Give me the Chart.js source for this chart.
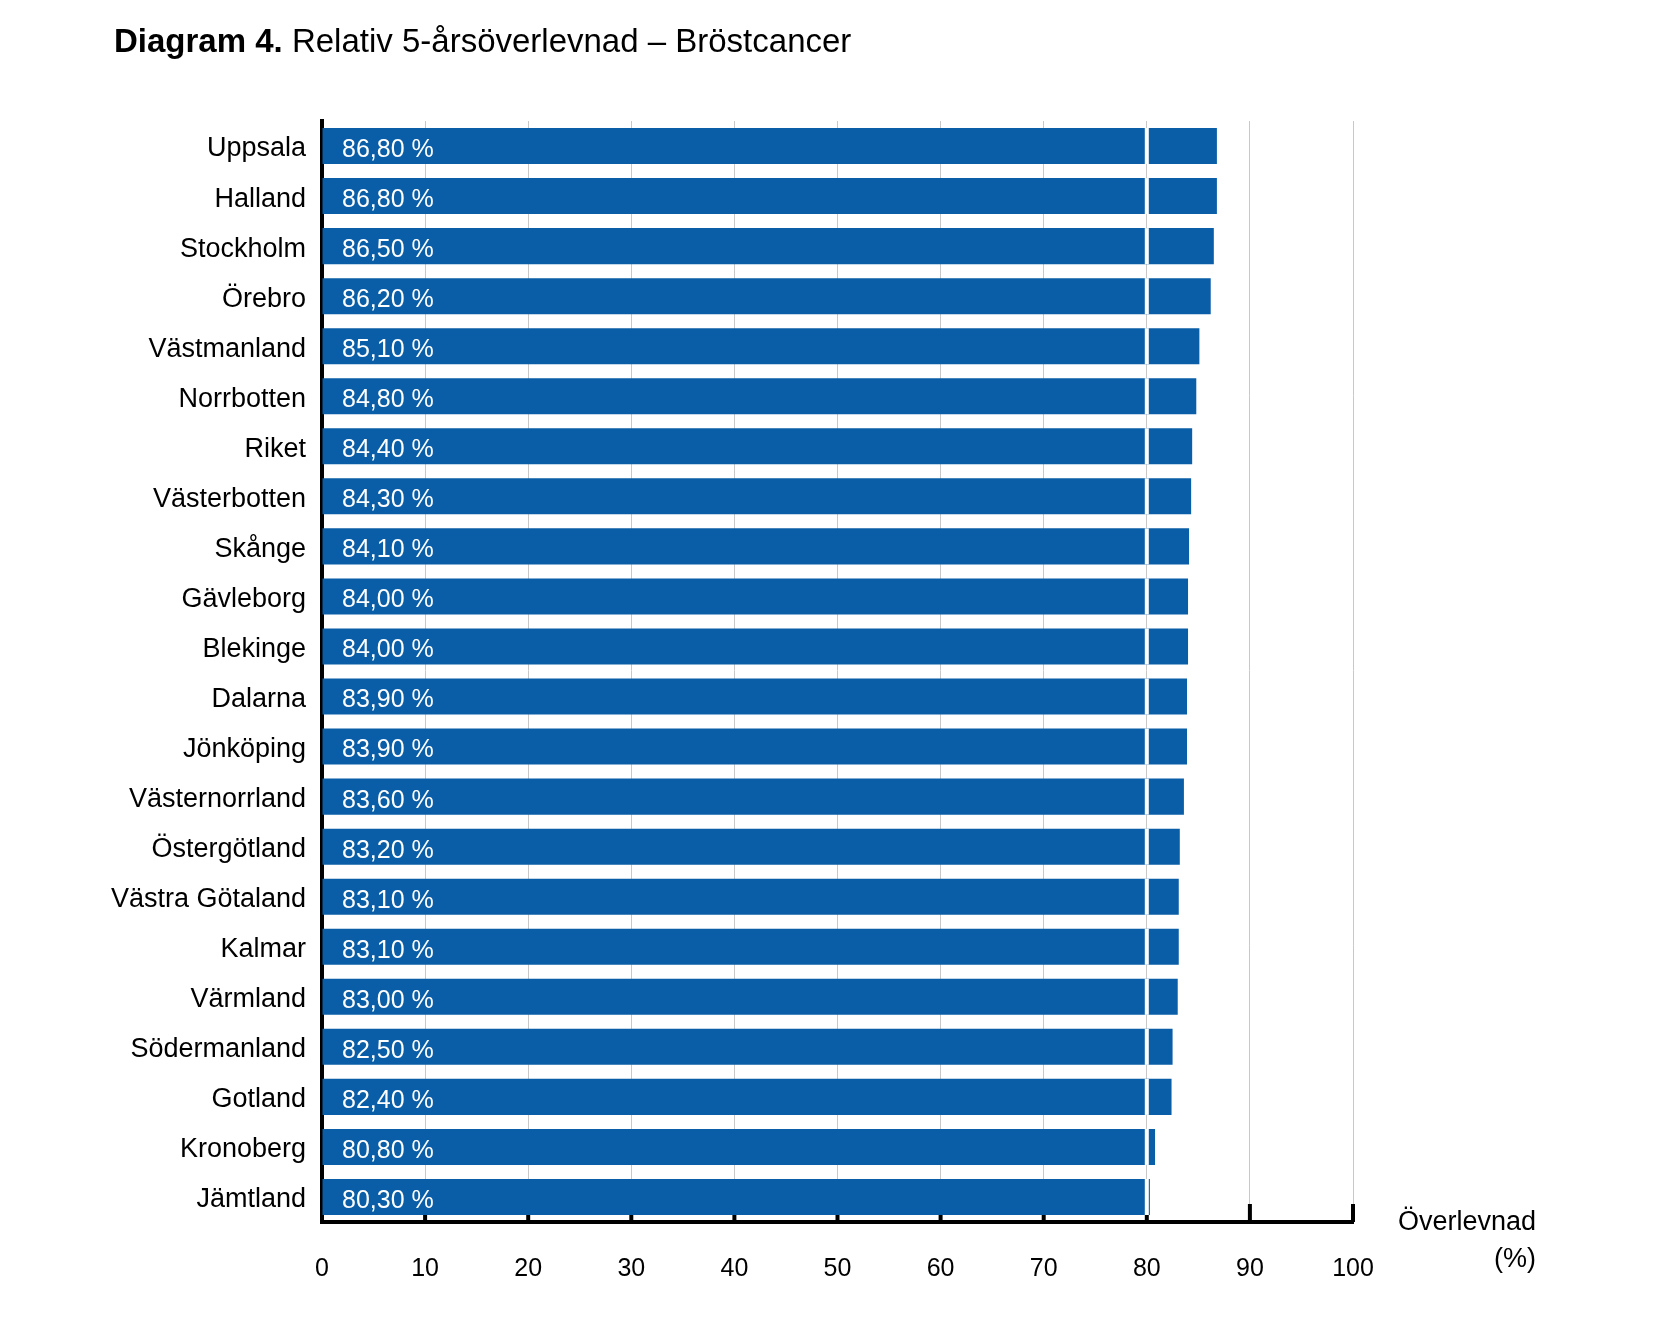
<!DOCTYPE html>
<html lang="sv">
<head>
<meta charset="utf-8">
<title>Diagram 4. Relativ 5-årsöverlevnad – Bröstcancer</title>
<script src="https://cdn.jsdelivr.net/npm/chart.js@4.4.1/dist/chart.umd.min.js"></script>
<style>
  html, body { margin: 0; padding: 0; background: #fff; }
  canvas { display: block; }
</style>
</head>
<body>
<canvas id="myChart" width="1654" height="1326"></canvas>
<script>
// data
const regions = [
  'Uppsala', 'Halland', 'Stockholm', 'Örebro', 'Västmanland', 'Norrbotten',
  'Riket', 'Västerbotten', 'Skånge', 'Gävleborg', 'Blekinge', 'Dalarna',
  'Jönköping', 'Västernorrland', 'Östergötland', 'Västra Götaland', 'Kalmar',
  'Värmland', 'Södermanland', 'Gotland', 'Kronoberg', 'Jämtland'
];
const survival = [
  86.8, 86.8, 86.5, 86.2, 85.1, 84.8,
  84.4, 84.3, 84.1, 84.0, 84.0, 83.9,
  83.9, 83.6, 83.2, 83.1, 83.1,
  83.0, 82.5, 82.4, 80.8, 80.3
];
const xTicks = [0, 10, 20, 30, 40, 50, 60, 70, 80, 90, 100];
const breakValue = 80;

const titleBold = 'Diagram 4.';
const titleRest = ' Relativ 5-årsöverlevnad – Bröstcancer';
const axisTitle = ['Överlevnad', '(%)'];

const FONT = '"Liberation Sans", Arial, Helvetica, sans-serif';
const BLUE = '#0a5ea7';

// small black tick marks pointing up from the x axis, under the bars
const innerTicks = {
  id: 'innerTicks',
  beforeDatasetsDraw(chart) {
    const { ctx, chartArea, scales: { x } } = chart;
    ctx.save();
    ctx.strokeStyle = '#000';
    ctx.lineWidth = 4;
    xTicks.forEach(v => {
      const px = x.getPixelForValue(v);
      ctx.beginPath();
      ctx.moveTo(px, chartArea.bottom);
      ctx.lineTo(px, chartArea.bottom - 18);
      ctx.stroke();
    });
    ctx.restore();
  }
};

// white cut at 80 and the value text inside each bar
const barText = {
  id: 'barText',
  afterDatasetsDraw(chart) {
    const { ctx, scales: { x } } = chart;
    const meta = chart.getDatasetMeta(0);
    const cut = x.getPixelForValue(breakValue);
    const left = x.getPixelForValue(0);
    ctx.save();
    meta.data.forEach((bar, i) => {
      ctx.fillStyle = '#fff';
      if (survival[i] > breakValue) {
        ctx.fillRect(cut - 2, bar.y - bar.height / 2, 4, bar.height);
      }
      ctx.font = '25px ' + FONT;
      ctx.textBaseline = 'middle';
      ctx.textAlign = 'left';
      ctx.fillText(survival[i].toFixed(2).replace('.', ',') + ' %', left + 20, bar.y + 4);
    });
    ctx.restore();
  }
};

// heading and the axis unit text
const texts = {
  id: 'texts',
  afterDraw(chart) {
    const { ctx, chartArea } = chart;
    ctx.save();
    ctx.fillStyle = '#000';
    ctx.textBaseline = 'alphabetic';
    ctx.textAlign = 'left';
    ctx.font = 'bold 33px ' + FONT;
    ctx.fillText(titleBold, 114, 52);
    const w = ctx.measureText(titleBold).width;
    ctx.font = '33px ' + FONT;
    ctx.fillText(titleRest, 114 + w, 52);

    ctx.font = '27px ' + FONT;
    ctx.textAlign = 'right';
    ctx.fillText(axisTitle[0], chartArea.right + 183, chartArea.bottom + 8);
    ctx.fillText(axisTitle[1], chartArea.right + 183, chartArea.bottom + 45);
    ctx.restore();
  }
};

const myChart = new Chart(document.getElementById('myChart'), {
  type: 'bar',
  data: {
    labels: regions,
    datasets: [{
      data: survival,
      backgroundColor: BLUE,
      borderWidth: 0,
      categoryPercentage: 1,
      barPercentage: 0.72
    }]
  },
  options: {
    indexAxis: 'y',
    responsive: false,
    devicePixelRatio: 1,
    animation: false,
    layout: { padding: { left: 0, top: 121, right: 301, bottom: 34 } },
    plugins: {
      legend: { display: false },
      title: { display: false },
      tooltip: { enabled: false }
    },
    scales: {
      x: {
        min: 0,
        max: 100,
        afterBuildTicks: scale => { scale.ticks = xTicks.map(v => ({ value: v })); },
        afterFit: scale => { scale.height = 70; },
        grid: { color: '#c8c8c8', lineWidth: 1, drawTicks: false },
        border: { display: true, color: '#000', width: 4 },
        ticks: {
          padding: 32,
          color: '#000',
          font: { family: FONT, size: 25 },
          maxRotation: 0
        }
      },
      y: {
        afterFit: scale => { scale.width = 322; },
        grid: { display: false, drawTicks: false },
        border: { display: true, color: '#000', width: 4 },
        ticks: {
          padding: 16,
          labelOffset: 3,
          color: '#000',
          font: { family: FONT, size: 27 }
        }
      }
    }
  },
  plugins: [innerTicks, barText, texts]
});
</script>
</body>
</html>
